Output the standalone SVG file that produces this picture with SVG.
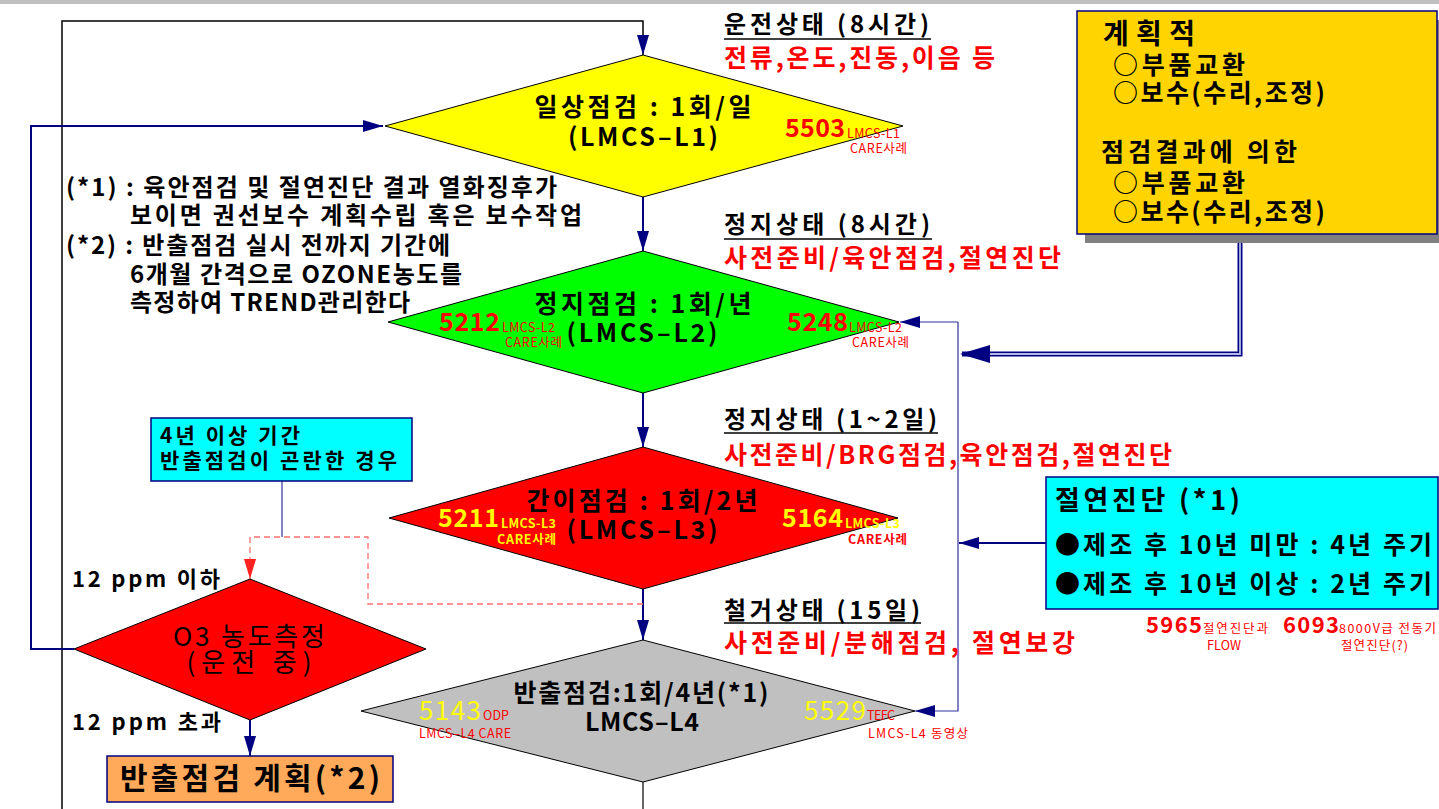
<svg xmlns="http://www.w3.org/2000/svg" width="1439" height="809" viewBox="0 0 1439 809">
<style>
text{font-family:"Noto Sans CJK KR","Noto Sans",sans-serif;}
.b{font-weight:bold;}
.t{font-size:25px;font-weight:bold;fill:#000;}
.lm{font-size:25px;font-weight:bold;fill:#000;}
.rn{font-size:25px;font-weight:bold;fill:#ff0000;}
.yn{font-size:25px;font-weight:bold;fill:#ffff00;}
.sm{font-size:12.5px;fill:#ff0000;}
.smy{font-size:12.5px;fill:#ffff00;font-weight:bold;}
.hd{font-size:24px;font-weight:bold;fill:#000;}
.rd{font-size:25px;font-weight:bold;fill:#ff0000;}
.ul{stroke:#000;stroke-width:1.5;}
.dm{stroke:#000;stroke-width:1;}
.bl{fill:none;stroke:#000080;stroke-width:2;}
.thin{fill:none;stroke:#3030a0;stroke-width:1.2;}
.note{font-size:24px;font-weight:bold;fill:#000;}
.yb{font-size:25px;font-weight:bold;fill:#000;}
</style>
<defs>
<marker id="ab" markerUnits="userSpaceOnUse" markerWidth="20" markerHeight="12" refX="20" refY="6" orient="auto"><path d="M0,0 L20,6 L0,12 z" fill="#000080"/></marker>
<marker id="ar" markerUnits="userSpaceOnUse" markerWidth="20" markerHeight="12" refX="20" refY="6" orient="auto"><path d="M0,0 L20,6 L0,12 z" fill="#ff2020"/></marker>
</defs>
<rect x="0" y="0" width="1439" height="4" fill="#c0c0c0"/>

<g id="connectors">
<path d="M62,809 V21 H643 V55" fill="none" stroke="#000" stroke-width="1.5" marker-end="url(#ab)"/>
<path d="M74,649 H31 V126 H383" class="bl" marker-end="url(#ab)"/>
<path d="M643,197 V251" class="bl" marker-end="url(#ab)"/>
<path d="M643,393 V447" class="bl" marker-end="url(#ab)"/>
<path d="M643,589 V640" class="bl" marker-end="url(#ab)"/>
<path d="M250,720 V756" class="bl" marker-end="url(#ab)"/>
<path d="M643,782 V809" fill="none" stroke="#000" stroke-width="1.2"/>
<path d="M282,481 V537" class="thin"/>
<path d="M643,604 H368 V537 H250 V579" fill="none" stroke="#ff7070" stroke-width="1.3" stroke-dasharray="6,4" marker-end="url(#ar)"/>
<path d="M958,322 H900" class="thin" marker-end="url(#ab)"/>
<path d="M958,322 V711 H915" class="thin" marker-end="url(#ab)"/>
<path d="M1046,543 H959" class="bl" marker-end="url(#ab)"/>
<path d="M1240,235 V354 H962" fill="none" stroke="#000080" stroke-width="5"/>
<path d="M1240,235 V354 H975" fill="none" stroke="#b8b8e8" stroke-width="1.8"/>
<polygon points="960,354 990,345 990,363" fill="#000080"/>
</g>

<g id="L1">
<polygon points="643,55 903,126 643,197 385,126" fill="#ffff00" class="dm"/>
<text x="643" y="116" class="t" text-anchor="middle" textLength="217">일상점검 : 1회/일</text>
<text x="643" y="146" class="lm" text-anchor="middle" textLength="150">(LMCS–L1)</text>
<text x="785" y="137" class="rn" textLength="60">5503</text>
<text x="847" y="138" class="sm" textLength="53">LMCS-L1</text>
<text x="850" y="153" class="sm" textLength="57">CARE사례</text>
</g>

<g id="L2">
<polygon points="643,251 899,322 643,393 388,322" fill="#00ff00" class="dm"/>
<text x="643" y="313" class="t" text-anchor="middle" textLength="217">정지점검 : 1회/년</text>
<text x="642" y="342" class="lm" text-anchor="middle" textLength="151">(LMCS–L2)</text>
<text x="439" y="331" class="rn" textLength="61">5212</text>
<text x="502" y="332" class="sm" textLength="53">LMCS-L2</text>
<text x="505" y="347" class="sm" textLength="57">CARE사례</text>
<text x="787" y="331" class="rn" textLength="61">5248</text>
<text x="849" y="332" class="sm" textLength="53">LMCS-L2</text>
<text x="852" y="347" class="sm" textLength="57">CARE사례</text>
</g>

<g id="L3">
<polygon points="643,447 898,518 643,589 389,518" fill="#ff0000" class="dm"/>
<text x="642" y="510" class="t" text-anchor="middle" textLength="231">간이점검 : 1회/2년</text>
<text x="642" y="539" class="lm" text-anchor="middle" textLength="151">(LMCS–L3)</text>
<text x="438" y="527" class="yn" textLength="61">5211</text>
<text x="501" y="528" class="smy" textLength="55">LMCS-L3</text>
<text x="497" y="544" class="smy" textLength="59">CARE사례</text>
<text x="782" y="527" class="yn" textLength="61">5164</text>
<text x="845" y="528" class="smy" textLength="55">LMCS-L3</text>
<text x="848" y="544" class="sm" style="font-weight:bold" textLength="59">CARE사례</text>
</g>

<g id="L4">
<polygon points="643,640 915,711 643,782 361,711" fill="#c0c0c0" class="dm"/>
<text x="641" y="702" class="t" text-anchor="middle" textLength="255">반출점검:1회/4년(*1)</text>
<text x="642" y="731" class="t" text-anchor="middle" textLength="114">LMCS–L4</text>
<text x="419" y="720" style="font-size:26px;fill:#ffff00" textLength="62">5143</text>
<text x="483" y="720" class="sm" textLength="26">ODP</text>
<text x="419" y="738" class="sm" textLength="92">LMCS–L4  CARE</text>
<text x="804" y="720" style="font-size:26px;fill:#ffff00" textLength="62">5529</text>
<text x="867" y="720" class="sm" textLength="28">TEFC</text>
<text x="868" y="738" class="sm" textLength="100">LMCS-L4  동영상</text>
</g>

<g id="O3">
<polygon points="250,579 426,649 250,720 74,649" fill="#ff0000" class="dm"/>
<text x="249" y="646" text-anchor="middle" style="font-size:26px;fill:#000" textLength="152">O3 농도측정</text>
<text x="249" y="672" text-anchor="middle" style="font-size:26px;fill:#000" textLength="125">(운전 중)</text>
</g>

<g id="ppm">
<text x="72" y="587" class="hd" style="font-size:22px" textLength="148">12 ppm 이하</text>
<text x="72" y="730" class="hd" style="font-size:22px" textLength="149">12 ppm 초과</text>
</g>

<g id="plan">
<rect x="107" y="756" width="286" height="46" fill="#ffa95a" stroke="#000080" stroke-width="1.5"/>
<text x="120" y="789" class="b" style="font-size:30px" textLength="260">반출점검 계획(*2)</text>
</g>

<g id="hard">
<rect x="151" y="418" width="261" height="63" fill="#00ffff" stroke="#000080" stroke-width="1.5"/>
<text x="160" y="443" class="b" style="font-size:21px" textLength="140">4년 이상 기간</text>
<text x="160" y="468" class="b" style="font-size:21px" textLength="237">반출점검이 곤란한 경우</text>
</g>

<g id="notes">
<text x="66" y="196" class="note" textLength="491">(*1) : 육안점검 및 절연진단 결과 열화징후가</text>
<text x="130" y="224" class="note" textLength="452">보이면 권선보수 계획수립 혹은 보수작업</text>
<text x="66" y="254" class="note" textLength="384">(*2) : 반출점검 실시 전까지 기간에</text>
<text x="130" y="283" class="note" textLength="332">6개월 간격으로 OZONE농도를</text>
<text x="130" y="311" class="note" textLength="280">측정하여 TREND관리한다</text>
</g>

<g id="states">
<text x="724" y="33" class="hd" textLength="205">운전상태 (8시간)</text>
<line x1="724" y1="39" x2="931" y2="39" class="ul"/>
<text x="724" y="67" class="rd" textLength="271">전류,온도,진동,이음 등</text>
<text x="724" y="233" class="hd" textLength="206">정지상태 (8시간)</text>
<line x1="724" y1="239" x2="932" y2="239" class="ul"/>
<text x="724" y="267" class="rd" textLength="337">사전준비/육안점검,절연진단</text>
<text x="724" y="428" class="hd" textLength="213">정지상태 (1~2일)</text>
<line x1="724" y1="433" x2="938" y2="433" class="ul"/>
<text x="724" y="464" class="rd" textLength="448">사전준비/BRG점검,육안점검,절연진단</text>
<text x="724" y="619" class="hd" textLength="196">철거상태 (15일)</text>
<line x1="724" y1="623" x2="921" y2="623" class="ul"/>
<text x="724" y="652" class="rd" textLength="351">사전준비/분해점검, 절연보강</text>
</g>

<g id="maint">
<rect x="1085" y="20" width="360" height="223" fill="#808080"/>
<rect x="1077" y="11" width="360" height="223" fill="#ffd400" stroke="#000080" stroke-width="1.5"/>
<text x="1103" y="44" class="b" style="font-size:28px" textLength="92">계획적</text>
<text x="1113" y="74" class="yb" textLength="132">○부품교환</text>
<text x="1113" y="102" class="yb" textLength="212">○보수(수리,조정)</text>
<text x="1101" y="161" class="yb" textLength="196">점검결과에 의한</text>
<text x="1113" y="192" class="yb" textLength="132">○부품교환</text>
<text x="1113" y="221" class="yb" textLength="212">○보수(수리,조정)</text>
</g>

<g id="insul">
<rect x="1046" y="477" width="392" height="132" fill="#00ffff" stroke="#000080" stroke-width="1.5"/>
<text x="1055" y="510" class="b" style="font-size:27px" textLength="185">절연진단 (*1)</text>
<text x="1055" y="554" class="b" style="font-size:25px" textLength="377">●제조 후 10년 미만 : 4년 주기</text>
<text x="1055" y="593" class="b" style="font-size:25px" textLength="377">●제조 후 10년 이상 : 2년 주기</text>
<text x="1146" y="633" class="rn" style="font-size:22px" textLength="56">5965</text>
<text x="1203" y="633" class="sm" textLength="65">절연진단과</text>
<text x="1224" y="650" class="sm" text-anchor="middle" textLength="34">FLOW</text>
<text x="1283" y="633" class="rn" style="font-size:22px" textLength="56">6093</text>
<text x="1339" y="633" class="sm" textLength="97">8000V급 전동기</text>
<text x="1341" y="650" class="sm" textLength="67">절연진단(?)</text>
</g>
</svg>
